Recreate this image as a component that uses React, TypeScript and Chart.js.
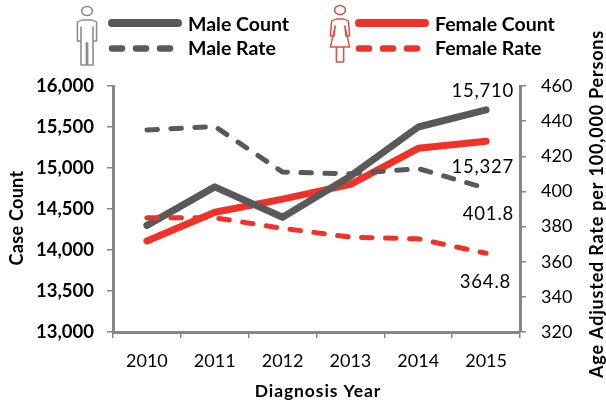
import React, { useEffect, useRef } from "react";
import { Chart, registerables } from "chart.js";

Chart.register(...registerables);

const years = ["2010", "2011", "2012", "2013", "2014", "2015"];
const maleCount = [14300, 14770, 14400, 14900, 15500, 15710];
const femaleCount = [14110, 14460, 14620, 14800, 15240, 15327];
const maleRate = [435, 437, 411, 410, 413, 401.8];
const femaleRate = [385, 385, 379, 374, 373, 364.8];
const GREY = "#595959";
const RED = "#f03228";
const AXIS = "#868686";
const INK = "#000";
const FONT = "Lato, sans-serif";

function person(ctx: CanvasRenderingContext2D, x: number, y: number, color: string, female: boolean) {
  ctx.save();
  ctx.translate(x, y);
  ctx.scale(1.2, 1);
  ctx.strokeStyle = color;
  ctx.lineWidth = 1.3;
  ctx.lineJoin = "round";
  ctx.beginPath();
  ctx.arc(0, 4, 4.5, 0, Math.PI * 2);
  ctx.stroke();
  ctx.beginPath();
  if (female) {
    ctx.moveTo(-3, 13); ctx.lineTo(3, 13); ctx.lineTo(7, 15); ctx.lineTo(8, 30); ctx.lineTo(5, 30);
    ctx.lineTo(4, 20); ctx.lineTo(8, 41); ctx.lineTo(-8, 41); ctx.lineTo(-4, 20); ctx.lineTo(-5, 30);
    ctx.lineTo(-8, 30); ctx.lineTo(-7, 15); ctx.closePath();
    ctx.moveTo(-3, 41); ctx.lineTo(-3, 56); ctx.lineTo(3, 56); ctx.lineTo(3, 41);
  } else {
    ctx.moveTo(-4, 13); ctx.lineTo(4, 13); ctx.lineTo(8, 15); ctx.lineTo(8, 34); ctx.lineTo(5, 34);
    ctx.lineTo(5, 20); ctx.lineTo(5, 58); ctx.lineTo(0.5, 58); ctx.lineTo(0.5, 36); ctx.lineTo(-0.5, 36);
    ctx.lineTo(-0.5, 58); ctx.lineTo(-5, 58); ctx.lineTo(-5, 20); ctx.lineTo(-5, 34); ctx.lineTo(-8, 34);
    ctx.lineTo(-8, 15); ctx.closePath();
  }
  ctx.stroke();
  ctx.restore();
}

const overlay = {
  id: "overlay",
  afterDraw(chart: any) {
    const { ctx, scales } = chart;
    ctx.save();
    person(ctx, 87, 7, "#8c8c8c", false);
    person(ctx, 340, 6, "#d9534a", true);
    ctx.lineCap = "round";
    const swatch = (x0: number, x1: number, y: number, color: string, w: number, dash: number[]) => {
      ctx.beginPath();
      ctx.strokeStyle = color;
      ctx.lineWidth = w;
      ctx.setLineDash(dash);
      ctx.moveTo(x0, y);
      ctx.lineTo(x1, y);
      ctx.stroke();
    };
    swatch(112, 178, 23, GREY, 8, []);
    swatch(112, 172, 48.5, GREY, 6.5, [10, 14]);
    swatch(359, 425, 23, RED, 8, []);
    swatch(359, 419, 48.5, RED, 6.5, [10, 14]);
    ctx.setLineDash([]);
    ctx.fillStyle = INK;
    ctx.textBaseline = "middle";
    ctx.textAlign = "left";
    ctx.font = `bold 19.5px ${FONT}`;
    ctx.fillText("Male Count", 188, 25);
    ctx.fillText("Male Rate", 188, 49);
    ctx.fillText("Female Count", 435, 25);
    ctx.fillText("Female Rate", 435, 49);

    ctx.font = `18.5px ${FONT}`;
    ctx.textAlign = "right";
    ctx.letterSpacing = "0.8px";
    const xEnd = scales.x.getPixelForValue(years.length - 1);
    const label = (text: string, py: number, dx: number, dy: number) => {
      ctx.fillText(text, xEnd + dx, py + dy);
    };
    label("15,710", scales.y.getPixelForValue(maleCount[5]), 28, -19);
    label("15,327", scales.y.getPixelForValue(femaleCount[5]), 28, 26);
    label("401.8", scales.y2.getPixelForValue(maleRate[5]), 28, 26);
    label("364.8", scales.y2.getPixelForValue(femaleRate[5]), 25, 29);

    ctx.textAlign = "center";
    ctx.font = `bold 17.5px ${FONT}`;
    ctx.letterSpacing = "0.9px";
    ctx.fillText("Diagnosis Year", 318, 391);
    const vertical = (text: string, x: number, y: number, font: string, spacing: string) => {
      ctx.save();
      ctx.translate(x, y);
      ctx.rotate(-Math.PI / 2);
      ctx.font = font;
      ctx.letterSpacing = spacing;
      ctx.fillText(text, 0, 0);
      ctx.restore();
    };
    vertical("Case Count", 17, 218, `bold 18px ${FONT}`, "0.3px");
    vertical("Age Adjusted Rate per 100,000 Persons", 597, 204, `bold 18px ${FONT}`, "0.8px");
    ctx.restore();
  },
};

export default function App() {
  const ref = useRef<HTMLCanvasElement>(null);
  useEffect(() => {
    const solid = { borderWidth: 7, pointRadius: 0, tension: 0, borderCapStyle: "round" as const, borderJoinStyle: "round" as const };
    const dashed = { ...solid, borderWidth: 5, borderDash: [10.5, 13.5] };
    const chart = new Chart(ref.current!, {
      type: "line",
      data: {
        labels: years,
        datasets: [
          { label: "Male Rate", data: maleRate, borderColor: GREY, yAxisID: "y2", ...dashed },
          { label: "Female Rate", data: femaleRate, borderColor: RED, yAxisID: "y2", ...dashed },
          { label: "Male Count", data: maleCount, borderColor: GREY, yAxisID: "y", ...solid },
          { label: "Female Count", data: femaleCount, borderColor: RED, yAxisID: "y", ...solid },
        ],
      },
      options: {
        responsive: false,
        animation: false,
        layout: { padding: { top: 86, left: 0, right: 0, bottom: 0 } },
        plugins: { legend: { display: false }, tooltip: { enabled: false } },
        scales: {
          x: {
            offset: true,
            afterFit: (s: any) => { s.height = 70; },
            grid: { offset: true, drawOnChartArea: false, color: AXIS, tickLength: 6, lineWidth: 1.5 },
            border: { color: AXIS, width: 3 },
            ticks: { color: INK, font: { family: FONT, size: 18 }, padding: 12, maxRotation: 0 },
          },
          y: {
            position: "left",
            min: 13000,
            max: 16000,
            afterFit: (s: any) => { s.width = 113; },
            grid: { drawOnChartArea: false, color: AXIS, tickLength: 6, lineWidth: 1.5 },
            border: { color: AXIS, width: 3 },
            ticks: { stepSize: 500, color: INK, padding: 13, font: { family: FONT, size: 18.5, weight: "bold" }, callback: (v: any) => Number(v).toLocaleString("en-US") },
          },
          y2: {
            position: "right",
            min: 320,
            max: 460,
            afterFit: (s: any) => { s.width = 86; },
            grid: { drawOnChartArea: false, color: AXIS, tickLength: 6, lineWidth: 1.5 },
            border: { color: AXIS, width: 3 },
            ticks: { stepSize: 20, color: INK, padding: 15, font: { family: FONT, size: 18 } },
          },
        },
      } as any,
      plugins: [overlay],
    });
    return () => chart.destroy();
  }, []);
  return (
    <canvas
      ref={ref}
      width={606}
      height={402}
      style={{ position: "absolute", left: 0, top: 0, display: "block" }}
    />
  );
}
